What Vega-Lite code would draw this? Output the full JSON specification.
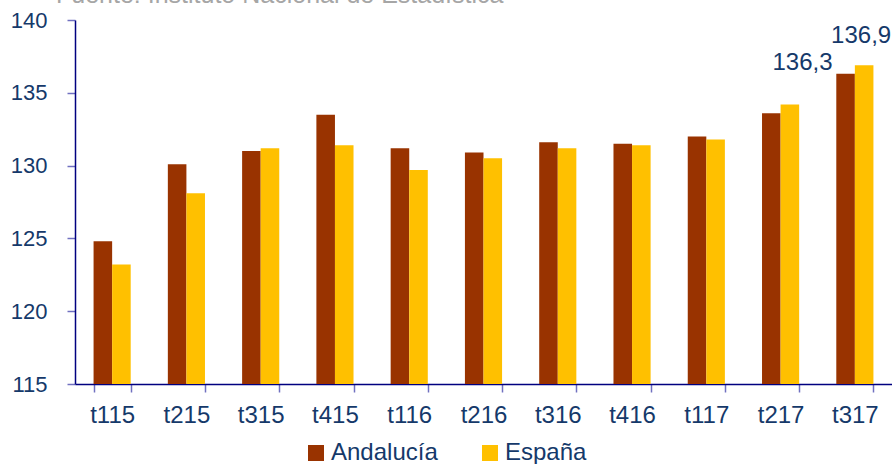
{
  "$schema": "https://vega.github.io/schema/vega-lite/v6.json",
  "width": 817,
  "height": 364,
  "autosize": {"type": "none"},
  "padding": {"left": 75, "top": 20, "right": 0, "bottom": 80},
  "background": "white",
  "config": {
    "view": {"stroke": null},
    "font": "Liberation Sans",
    "locale": {"number": {"decimal": ",", "thousands": ".", "grouping": [3], "currency": ["", " €"]}}
  },
  "title": {
    "text": "Fuente: Instituto Nacional de Estadística",
    "anchor": "start",
    "frame": "group",
    "orient": "top",
    "fontSize": 25,
    "fontWeight": "normal",
    "color": "#a6a6a6",
    "baseline": "alphabetic",
    "dx": -19,
    "dy": 19,
    "offset": 0
  },
  "data": {
    "values": [
      {"periodo": "t115", "serie": "Andalucía", "valor": 124.8},
      {"periodo": "t115", "serie": "España", "valor": 123.2},
      {"periodo": "t215", "serie": "Andalucía", "valor": 130.1},
      {"periodo": "t215", "serie": "España", "valor": 128.1},
      {"periodo": "t315", "serie": "Andalucía", "valor": 131.0},
      {"periodo": "t315", "serie": "España", "valor": 131.2},
      {"periodo": "t415", "serie": "Andalucía", "valor": 133.5},
      {"periodo": "t415", "serie": "España", "valor": 131.4},
      {"periodo": "t116", "serie": "Andalucía", "valor": 131.2},
      {"periodo": "t116", "serie": "España", "valor": 129.7},
      {"periodo": "t216", "serie": "Andalucía", "valor": 130.9},
      {"periodo": "t216", "serie": "España", "valor": 130.5},
      {"periodo": "t316", "serie": "Andalucía", "valor": 131.6},
      {"periodo": "t316", "serie": "España", "valor": 131.2},
      {"periodo": "t416", "serie": "Andalucía", "valor": 131.5},
      {"periodo": "t416", "serie": "España", "valor": 131.4},
      {"periodo": "t117", "serie": "Andalucía", "valor": 132.0},
      {"periodo": "t117", "serie": "España", "valor": 131.8},
      {"periodo": "t217", "serie": "Andalucía", "valor": 133.6},
      {"periodo": "t217", "serie": "España", "valor": 134.2},
      {"periodo": "t317", "serie": "Andalucía", "valor": 136.3},
      {"periodo": "t317", "serie": "España", "valor": 136.9}
    ]
  },
  "encoding": {
    "x": {
      "field": "periodo",
      "type": "nominal",
      "sort": null,
      "scale": {"paddingInner": 0.5, "paddingOuter": 0.25},
      "axis": {
        "title": null,
        "labelAngle": 0,
        "labelFontSize": 24,
        "labelColor": "#15396a",
        "labelPadding": 11,
        "labelBaseline": "top",
        "domainColor": "#000080",
        "domainWidth": 1.5,
        "tickColor": "#7070c0",
        "tickSize": 8,
        "tickWidth": 1.5,
        "tickBand": "extent"
      }
    },
    "xOffset": {"field": "serie", "type": "nominal", "sort": ["Andalucía", "España"]},
    "y": {
      "field": "valor",
      "type": "quantitative",
      "scale": {"domain": [115, 140], "zero": false, "nice": false},
      "axis": {
        "title": null,
        "values": [115, 120, 125, 130, 135, 140],
        "grid": false,
        "labelFontSize": 22,
        "labelColor": "#15396a",
        "labelPadding": 20,
        "domainColor": "#000080",
        "domainWidth": 1.5,
        "tickColor": "#7070c0",
        "tickSize": 8,
        "tickWidth": 1.5
      }
    }
  },
  "layer": [
    {
      "mark": {"type": "bar", "clip": true},
      "encoding": {
        "y2": {"datum": 115},
        "color": {
          "field": "serie",
          "type": "nominal",
          "sort": ["Andalucía", "España"],
          "scale": {"domain": ["Andalucía", "España"], "range": ["#993300", "#ffc000"]},
          "legend": {
            "title": null,
            "orient": "none",
            "legendX": 229,
            "legendY": 421,
            "direction": "horizontal",
            "symbolType": "square",
            "symbolSize": 256,
            "symbolStrokeWidth": 0,
            "labelFontSize": 24,
            "labelColor": "#15396a",
            "labelOffset": 3,
            "columnPadding": 40
          }
        }
      }
    },
    {
      "transform": [{"filter": "datum.periodo == 't317' && datum.serie == 'Andalucía'"}],
      "mark": {"type": "text", "align": "right", "baseline": "bottom", "dx": -13, "dy": 1, "fontSize": 24, "color": "#15396a"},
      "encoding": {"text": {"field": "valor", "type": "quantitative", "format": ".1f"}}
    },
    {
      "transform": [{"filter": "datum.periodo == 't317' && datum.serie == 'España'"}],
      "mark": {"type": "text", "align": "center", "baseline": "bottom", "dx": -3, "dy": -17, "fontSize": 24, "color": "#15396a"},
      "encoding": {"text": {"field": "valor", "type": "quantitative", "format": ".1f"}}
    }
  ]
}
